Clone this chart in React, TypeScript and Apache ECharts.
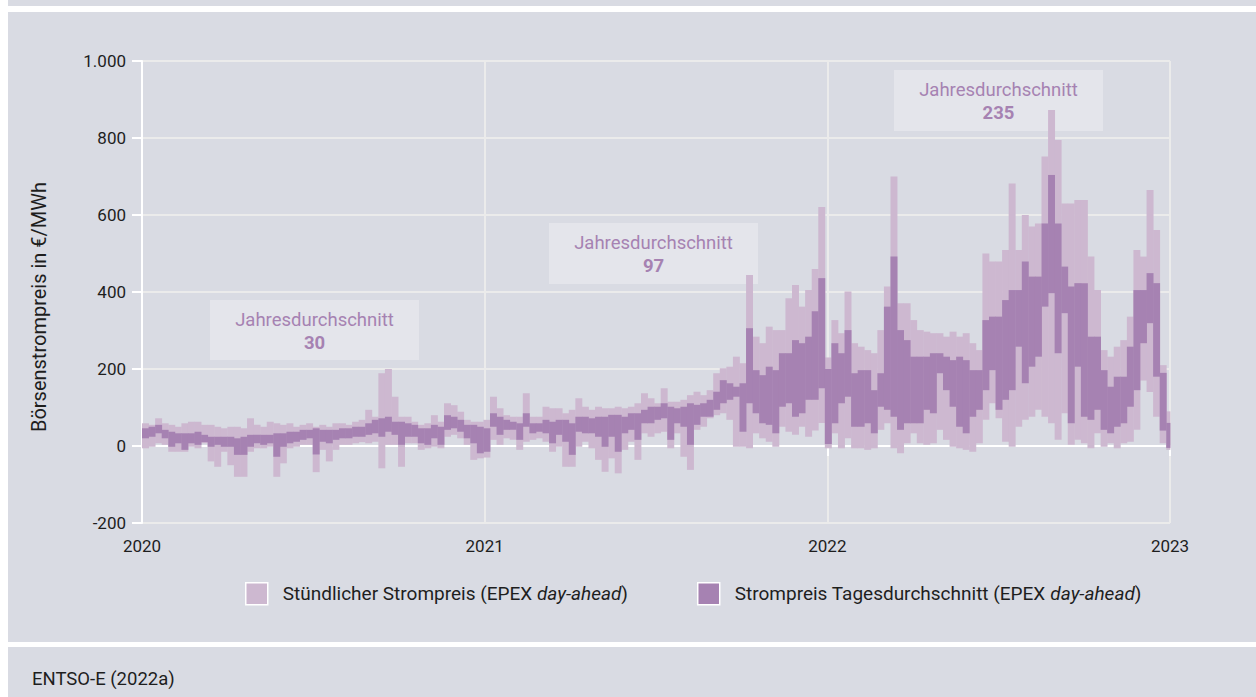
import React, { useEffect, useRef } from "react";
import * as echarts from "echarts";

// ---- Data (weekly aggregates, €/MWh) ----
// Week i starts on day i*7 counted from 1 Jan 2020.
const hourlyMax2020 = [59,55,72,59,55,50,59,63,63,55, 55,50,46,50,50,46,72,55,50,63, 59,55,59,50,55,59,50,55,50,59, 59,55,63,68,94,76,189,200,128,76, 76,63,55,59,80,63,111,106,89,68, 63,63,68];
const hourlyMin2020 = [-6,-2,7,3,-15,-15,-15,-2,-6,7, -40,-54,-15,-50,-80,-80,-15,-6,-6,-2, -80,-45,-6,-2,3,3,-68,-10,-40,-10, 3,3,7,10,7,11,-58,3,3,-54, 7,7,-10,-6,-2,-6,24,29,20,3, -36,-32,-30];
const dailyAvgMax2020 = [46,50,55,42,37,33,33,33,37,29, 24,24,24,24,20,24,29,29,29,29, 33,33,37,37,42,42,46,42,42,42, 46,46,50,50,59,68,72,76,63,63, 59,55,46,46,55,50,80,76,68,55, 55,50,46];
const dailyAvgMin2020 = [20,24,33,20,-2,7,-10,7,3,10, -2,3,-2,-2,-23,-23,-2,7,3,7, -28,-2,7,11,16,20,-22,11,7,16, 20,20,24,24,29,33,24,37,29,3, 24,24,7,3,20,3,42,46,37,20, 7,-19,-15];

const hourlyMax2021 = [128,98,80,76,76,137,76,76,102,98, 98,85,94,124,102,94,102,98,98,102, 98,102,111,137,124,111,150,115,115,120, 132,141,132,145,189,202,206,232,215,444, 284,267,310,301,301,384,418,362,405,460, 621,230];
const hourlyMin2021 = [16,3,20,16,-10,11,16,20,11,-15, -2,-54,-54,-2,11,-6,-36,-67,-32,-71, -10,11,-36,33,24,33,37,-6,33,-28, -62,42,50,72,80,85,68,-2,-2,-6, 33,20,11,-2,50,37,29,50,24,40, 60,-6];
const dailyAvgMax2021 = [85,76,68,63,59,85,59,59,68,63, 68,68,59,76,76,72,76,76,81,81, 76,85,85,94,102,102,111,102,98,102, 111,107,111,120,141,171,163,154,163,306, 197,184,206,197,241,241,275,267,284,350, 436,200];
const dailyAvgMin2021 = [50,29,42,42,16,50,33,37,33,7, 29,11,-23,37,33,33,24,-2,24,-15, 33,42,16,59,59,68,72,16,59,50, 3,55,76,76,94,111,120,128,37,111, 85,59,55,33,102,111,76,85,120,120, 150,5];

const hourlyMax2022 = [327,293,401,267,258,249,241,301,414,700, 371,371,327,301,297,293,293,284,297,284, 293,267,249,500,479,479,509,682,509,600, 570,578,752,873,795,630,630,639,639,492, 405,249,232,258,275,336,509,492,665,561, 210,90];
const hourlyMin2022 = [33,-6,20,-6,-6,-10,-6,42,59,-6, -19,7,33,7,3,7,42,16,-2,-6, -10,-15,7,68,111,72,11,-2,50,68, 76,94,76,59,16,85,3,16,7,-6, 33,-2,7,-6,7,11,42,170,140,76, 7,-10];
const dailyAvgMax2022 = [267,241,301,189,197,197,145,189,362,492, 301,275,232,232,232,241,241,232,223,232, 223,197,197,327,336,336,379,405,405,479, 440,440,578,704,578,466,414,423,423,284, 284,197,154,180,180,258,405,405,449,423, 190,60];
const dailyAvgMin2022 = [59,111,128,50,50,59,33,102,94,76, 42,59,59,59,94,85,189,145,102,50, 33,76,94,145,197,94,120,145,258,163, 206,232,362,397,241,345,59,206,76,68, 94,42,33,50,59,102,145,267,319,180, 40,-5];

const yearLabels = ["2020", "2021", "2022", "2023"];
const annualAverages = [30, 97, 235];
const seriesNames = [
  "Stündlicher Strompreis (EPEX day-ahead)",
  "Strompreis Tagesdurchschnitt (EPEX day-ahead)",
];
const sourceText = "ENTSO-E (2022a)";
const yAxisName = "Börsenstrompreis in €/MWh";
const annotationTitle = "Jahresdurchschnitt";

const TOTAL_DAYS = 1096;

// ---- Styles ----
const FONT = "Roboto, 'Noto Sans', sans-serif";
const PANEL = "#d9dbe3";
const LIGHT = "#cdb8d0";
const DARK = "#a682b2";
const BOX = "#e4e5eb";
const TEXT = "#1e1e1e";
const GRID = "#ebebeb";

const hourlyMax = [...hourlyMax2020, ...hourlyMax2021, ...hourlyMax2022];
const hourlyMin = [...hourlyMin2020, ...hourlyMin2021, ...hourlyMin2022];
const dailyAvgMax = [...dailyAvgMax2020, ...dailyAvgMax2021, ...dailyAvgMax2022];
const dailyAvgMin = [...dailyAvgMin2020, ...dailyAvgMin2021, ...dailyAvgMin2022];

const toRanges = (lo: number[], hi: number[]) =>
  hi.map((h, i) => [i * 7, Math.min(i * 7 + 7, TOTAL_DAYS), lo[i], h]);

const makeRender = (color: string) => (_params: any, api: any) => {
  const p1 = api.coord([api.value(0), api.value(3)]);
  const p2 = api.coord([api.value(1), api.value(2)]);
  return {
    type: "rect",
    shape: { x: p1[0], y: p1[1], width: p2[0] - p1[0] + 0.4, height: p2[1] - p1[1] },
    style: { fill: color },
  };
};

const boxes = [
  { x: 210, y: 300, w: 209, h: 60 },
  { x: 549, y: 223, w: 209, h: 61 },
  { x: 894, y: 70, w: 209, h: 61 },
];

export default function App() {
  const ref = useRef<HTMLDivElement>(null);

  useEffect(() => {
    if (!ref.current) return;
    const chart = echarts.init(ref.current, undefined, { renderer: "svg" });
    const step = TOTAL_DAYS / 3;

    const graphics: any[] = [];
    boxes.forEach((b, i) => {
      graphics.push({
        type: "rect",
        left: b.x,
        top: b.y,
        shape: { width: b.w, height: b.h },
        style: { fill: BOX },
        z: 0,
      });
      graphics.push({
        type: "text",
        x: b.x + b.w / 2,
        y: b.y + 20,
        style: {
          text: annotationTitle,
          fill: DARK,
          font: `18.5px ${FONT}`,
          textAlign: "center",
          textVerticalAlign: "middle",
        },
        z: 1,
      });
      graphics.push({
        type: "text",
        x: b.x + b.w / 2,
        y: b.y + 43,
        style: {
          text: String(annualAverages[i]),
          fill: DARK,
          font: `bold 18.5px ${FONT}`,
          textAlign: "center",
          textVerticalAlign: "middle",
        },
        z: 1,
      });
    });
    graphics.push({
      type: "text",
      x: 32,
      y: 679,
      style: {
        text: sourceText,
        fill: TEXT,
        font: `18.5px ${FONT}`,
        textVerticalAlign: "middle",
      },
    });

    chart.setOption({
      animation: false,
      backgroundColor: "transparent",
      textStyle: { fontFamily: FONT },
      grid: { left: 142, right: 86, top: 61, bottom: 174, containLabel: false },
      legend: {
        left: 245,
        top: 582,
        padding: 0,
        itemWidth: 22,
        itemHeight: 22,
        itemGap: 69,
        icon: "rect",
        data: seriesNames,
        itemStyle: { borderColor: "#ffffff", borderWidth: 1.5 },
        formatter: (name: string) => name.replace("day-ahead", "{i|day-ahead}"),
        textStyle: {
          color: TEXT,
          fontSize: 19,
          fontFamily: FONT,
          padding: [0, 0, 0, 10],
          rich: { i: { fontStyle: "italic", fontSize: 19, fontFamily: FONT, color: TEXT } },
        },
      },
      xAxis: {
        type: "value",
        min: 0,
        max: TOTAL_DAYS,
        interval: step,
        axisLine: { show: true, lineStyle: { color: "#ffffff", width: 2 } },
        axisTick: { show: true, length: 10, lineStyle: { color: "#ffffff", width: 2 } },
        axisLabel: {
          color: TEXT,
          fontSize: 17,
          margin: 14,
          formatter: (v: number) => yearLabels[Math.round(v / step)] ?? "",
        },
        splitLine: { show: true, lineStyle: { color: GRID, width: 2 } },
      },
      yAxis: {
        type: "value",
        min: -200,
        max: 1000,
        interval: 200,
        name: yAxisName,
        nameLocation: "middle",
        nameGap: 93,
        nameTextStyle: { color: TEXT, fontSize: 20, padding: [0, 30, 0, 0] },
        axisLine: { show: true, lineStyle: { color: "#ffffff", width: 2 } },
        axisTick: { show: true, length: 10, lineStyle: { color: "#ffffff", width: 2 } },
        axisLabel: {
          color: TEXT,
          fontSize: 17,
          margin: 16,
          formatter: (v: number) => (v >= 1000 ? v.toLocaleString("de-DE") : String(v)),
        },
        splitLine: { show: true, lineStyle: { color: GRID, width: 2 } },
      },
      graphic: graphics,
      series: [
        {
          type: "custom",
          name: seriesNames[0],
          renderItem: makeRender(LIGHT),
          data: toRanges(hourlyMin, hourlyMax),
          encode: { x: [0, 1], y: [2, 3] },
          itemStyle: { color: LIGHT },
          z: 3,
        },
        {
          type: "custom",
          name: seriesNames[1],
          renderItem: makeRender(DARK),
          data: toRanges(dailyAvgMin, dailyAvgMax),
          encode: { x: [0, 1], y: [2, 3] },
          itemStyle: { color: DARK },
          z: 4,
        },
      ],
    });
    return () => chart.dispose();
  }, []);

  return (
    <div style={{ position: "absolute", left: 0, top: 0, width: 1256, height: 697, background: "#ffffff" }}>
      <div style={{ position: "absolute", left: 8, top: 0, width: 1248, height: 6, background: PANEL }} />
      <div style={{ position: "absolute", left: 8, top: 12, width: 1248, height: 630, background: PANEL }} />
      <div style={{ position: "absolute", left: 8, top: 647, width: 1248, height: 50, background: PANEL }} />
      <div ref={ref} style={{ position: "absolute", left: 0, top: 0, width: 1256, height: 697 }} />
    </div>
  );
}
